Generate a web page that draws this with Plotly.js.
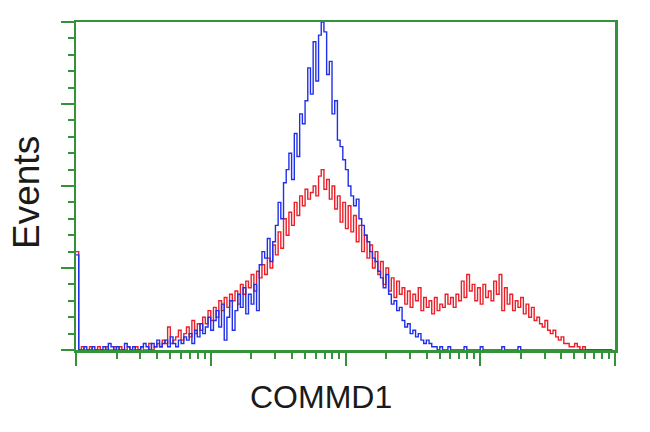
<!DOCTYPE html>
<html>
<head>
<meta charset="utf-8">
<script src="https://cdn.plot.ly/plotly-3.0.1.min.js"></script>
<style>html,body{margin:0;padding:0;background:#fff;}#chart{width:650px;height:432px;}</style>
</head>
<body>
<div id="chart"></div>
<script>
// Histogram channel counts (50 channels per decade, 4 decades), y scaled 0..100
var blueCounts = [
  29,
  0,0,1,0,0,1,0,0,0,1,
  0,2,1,0,1,0,0,2,1,0,
  1,0,0,1,2,1,0,2,1,3,
  1,2,3,1,4,2,1,3,2,4,
  3,5,2,6,4,8,5,7,10,6,
  9,12,7,14,3,10,15,6,12,17,
  13,19,11,17,14,20,12,26,30,28,
  34,27,33,38,45,40,51,55,60,52,
  66,59,72,69,76,86,78,94,82,96,
  100,97,84,88,72,76,64,62,58,55,
  50,47,44,46,40,38,35,33,30,28,
  27,24,22,19,23,17,14,15,12,13,
  9,7,8,5,6,4,5,3,2,3,
  2,1,1,0,1,0,0,1,0,0,
  0,0,0,1,0,0,0,0,0,1,
  0,0,0,0,0,0,0,1,0,0,
  0,0,0,1,0,0,0,0,0,0,
  0,0,0,0,0,0,0,0,0,0,
  0,0,0,0,0,0,0,0,0,0,
  0,0,0,0,0,0,0,0,0
];
var redCounts = [
  30,
  0,1,0,0,1,0,0,1,0,0,
  1,0,0,1,0,1,0,0,1,0,
  0,1,0,1,0,0,2,0,1,2,
  1,3,2,7,2,3,4,6,3,5,
  7,4,9,5,8,6,10,8,12,9,
  13,10,15,12,16,13,17,15,18,14,
  20,17,21,19,23,18,24,22,26,23,
  28,25,32,29,36,31,40,35,42,38,
  45,41,47,44,49,46,48,50,47,53,
  55,49,52,46,50,43,47,39,45,37,
  44,36,41,33,38,30,35,28,32,25,
  30,23,27,20,25,18,22,16,21,17,
  19,14,18,13,17,15,19,12,16,13,
  15,11,16,12,14,13,17,14,16,13,
  17,15,21,16,23,18,20,15,19,14,
  20,16,18,15,21,17,23,12,19,14,
  17,12,15,13,16,11,14,10,13,9,
  10,8,7,9,6,5,6,4,3,4,
  2,2,1,1,2,1,0,1,0,0,
  0,0,0,0,0,0,0,0,0
];
var xMajorTicks = [0, 50, 100, 150, 200];
var xMinorTicks = [
  15.05,23.86,30.10,34.95,38.91,42.25,45.15,47.71,
  65.05,73.86,80.10,84.95,88.91,92.25,95.15,97.71,
  115.05,123.86,130.10,134.95,138.91,142.25,145.15,147.71,
  165.05,173.86,180.10,184.95,188.91,192.25,195.15,197.71
];
var yMajorTicks = [0, 25, 50, 75, 100];
var xTitle = "COMMD1";
var yTitle = "Events";

var green = "#34923a";
var traces = [
  {y: redCounts, type: "scatter", mode: "lines", line: {shape: "hv", color: "#e8202a", width: 1.4}, hoverinfo: "none"},
  {y: blueCounts, type: "scatter", mode: "lines", line: {shape: "hv", color: "#2030e8", width: 1.4}, hoverinfo: "none"}
];
var layout = {
  width: 650, height: 432,
  margin: {l: 76, r: 35, t: 22, b: 82, pad: 0},
  paper_bgcolor: "#fff", plot_bgcolor: "#fff",
  showlegend: false,
  xaxis: {
    range: [0, 200], showgrid: false, zeroline: false,
    showline: true, mirror: true, linecolor: green, linewidth: 2.5,
    tickmode: "array", tickvals: xMajorTicks, ticks: "outside", ticklen: 13, tickwidth: 2, tickcolor: green,
    showticklabels: false,
    minor: {tickmode: "array", tickvals: xMinorTicks, ticks: "outside", ticklen: 6, tickwidth: 2, tickcolor: green, showgrid: false}
  },
  yaxis: {
    range: [0, 100], showgrid: false, zeroline: false,
    showline: true, mirror: true, linecolor: green, linewidth: 2.5,
    tickmode: "array", tickvals: yMajorTicks, ticks: "outside", ticklen: 13, tickwidth: 2, tickcolor: green,
    showticklabels: false,
    minor: {dtick: 5, tick0: 0, ticks: "outside", ticklen: 6, tickwidth: 2, tickcolor: green, showgrid: false}
  },
  annotations: [
    {text: xTitle, xref: "paper", yref: "paper", x: 0.4545, y: -0.143, xanchor: "center", yanchor: "middle", showarrow: false,
     font: {family: "Liberation Sans, Arial, sans-serif", size: 32, color: "#1a1a1a"}},
    {text: yTitle, xref: "paper", yref: "paper", x: -0.092, y: 0.48, xanchor: "center", yanchor: "middle", showarrow: false, textangle: -90,
     font: {family: "Liberation Sans, Arial, sans-serif", size: 37, color: "#1a1a1a"}}
  ]
};
Plotly.newPlot("chart", traces, layout, {staticPlot: true, displayModeBar: false});
</script>
</body>
</html>
